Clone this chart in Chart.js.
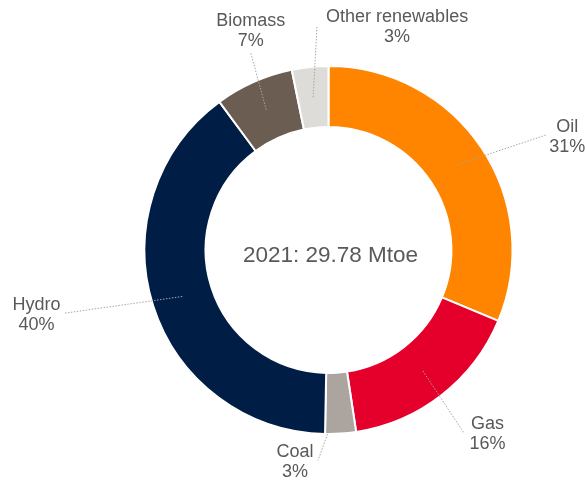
<!DOCTYPE html>
<html>
<head>
<meta charset="utf-8">
<script src="https://cdn.jsdelivr.net/npm/chart.js@4/dist/chart.umd.min.js"></script>
<style>
  html, body { margin: 0; padding: 0; background: #ffffff; }
  #wrap { width: 585px; height: 482px; position: relative; }
</style>
</head>
<body>
<div id="wrap"><canvas id="c" width="585" height="482"></canvas></div>
<script>
// ---- data ----
const categories = ["Oil", "Gas", "Coal", "Hydro", "Biomass", "Other renewables"];
const shares = [31.3, 16.3, 2.7, 39.6, 6.9, 3.2]; // % of total
const centerTitle = "2021: 29.78 Mtoe";
const colors = ["#FF8400", "#E4002B", "#ABA49F", "#001E45", "#6B5D52", "#DEDCD8"];

// ---- label layout (offsets relative to slice centroid) ----
const leaderEnd = [
  [90, -30], [40.6, 61.4], [-20.6, 57.3], [-117.7, 16.7], [-15.5, -57], [4, -72]
];
const textOffset = [ // [dx, dy of first-line baseline] relative to leader end
  [21, -2.7], [24, -3.7], [-23, -3.3], [-28, -3.7], [0, -26.3], [80, -3]
];

const TEXT = "#595959";
const FONT = "Liberation Sans, Arial, sans-serif";

const labelPlugin = {
  id: "sliceLabels",
  afterDatasetsDraw(chart) {
    const ctx = chart.ctx;
    const meta = chart.getDatasetMeta(0);
    ctx.save();
    meta.data.forEach((arc, i) => {
      const p = arc.tooltipPosition();
      const ex = p.x + leaderEnd[i][0], ey = p.y + leaderEnd[i][1];
      ctx.beginPath();
      ctx.setLineDash([1.5, 1.5]);
      ctx.strokeStyle = "#A6A6A6";
      ctx.lineWidth = 1;
      ctx.moveTo(p.x, p.y);
      ctx.lineTo(ex, ey);
      ctx.stroke();
      ctx.setLineDash([]);
      const tx = ex + textOffset[i][0], ty = ey + textOffset[i][1];
      ctx.fillStyle = TEXT;
      ctx.font = "18px " + FONT;
      ctx.textAlign = "center";
      ctx.textBaseline = "alphabetic";
      ctx.fillText(categories[i], tx, ty);
      ctx.fillText(Math.round(shares[i]) + "%", tx, ty + 20);
    });
    // center title
    const a = meta.data[0];
    ctx.font = "22.5px " + FONT;
    ctx.fillStyle = TEXT;
    ctx.textAlign = "center";
    ctx.textBaseline = "middle";
    ctx.fillText(centerTitle, a.x + 2, a.y + 6);
    ctx.restore();
  }
};

new Chart(document.getElementById("c"), {
  type: "doughnut",
  data: {
    labels: categories,
    datasets: [{
      data: shares,
      backgroundColor: colors,
      borderColor: "#ffffff",
      borderWidth: 2,
      hoverOffset: 0
    }]
  },
  options: {
    responsive: false,
    animation: false,
    radius: 184,
    cutout: "66.8%",
    layout: { padding: { left: 72, right: 0, top: 18, bottom: 0 } },
    plugins: {
      legend: { display: false },
      tooltip: { enabled: false }
    },
    events: []
  },
  plugins: [labelPlugin]
});
</script>
</body>
</html>
